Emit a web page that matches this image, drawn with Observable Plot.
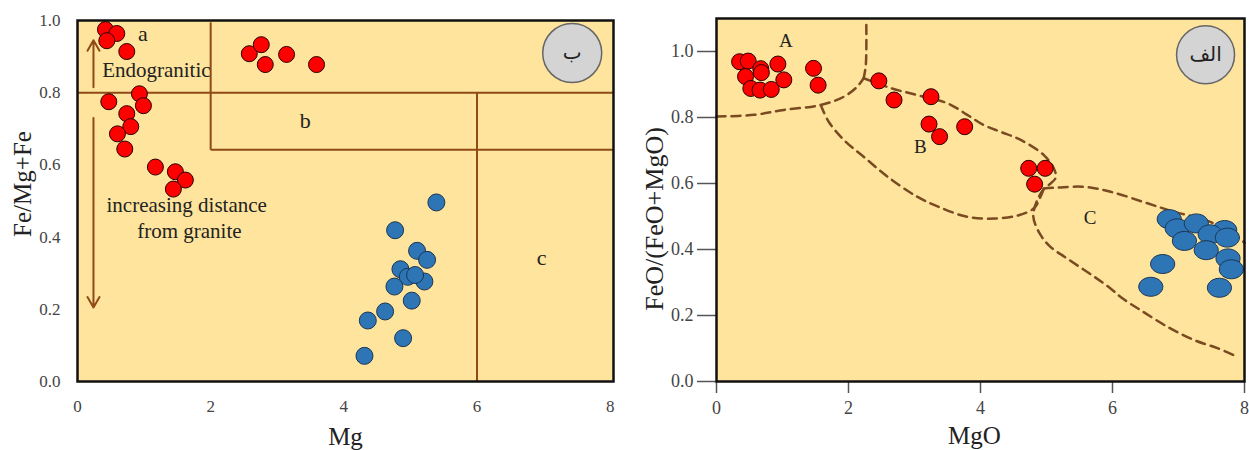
<!DOCTYPE html>
<html><head><meta charset="utf-8">
<script src="https://cdn.jsdelivr.net/npm/d3@7"></script>
<script src="https://cdn.jsdelivr.net/npm/@observablehq/plot@0.6"></script>
<style>
body{margin:0;background:#fff}
#wrap{display:flex;width:1249px;height:450px;background:#fff}
#wrap svg{display:block}
#wrap svg text{font-family:"Liberation Serif","DejaVu Serif",serif}
#wrap svg text.arabic{font-family:"DejaVu Sans",sans-serif}
</style>
</head><body><div id="wrap"></div>
<script>
// ---------- LEFT PANEL (ب): Fe/Mg+Fe vs Mg ----------
const leftXTicks = [0, 2, 4, 6, 8];
const leftYTicks = [0, 0.2, 0.4, 0.6, 0.8, 1.0];
const leftRed = [
  [0.42,0.975],[0.59,0.964],[0.44,0.944],[0.74,0.914],
  [0.47,0.775],[0.93,0.797],[0.99,0.764],[0.74,0.742],[0.80,0.706],[0.60,0.686],[0.71,0.644],
  [1.17,0.594],[1.47,0.581],[1.62,0.558],[1.44,0.533],
  [2.58,0.908],[2.76,0.933],[2.82,0.878],[3.14,0.906],[3.59,0.878]
];
const leftBlue = [
  [5.39,0.496],[4.77,0.419],[5.10,0.362],[5.25,0.337],[4.85,0.311],[4.96,0.290],[5.21,0.277],
  [5.07,0.295],[4.76,0.263],[5.02,0.224],[4.62,0.194],[4.36,0.169],[4.89,0.120],[4.31,0.071]
];
// field boundaries [x1, y1, x2, y2]
const leftBoundaries = [
  [0, 0.8, 8.05, 0.8],
  [2, 0.995, 2, 0.642],
  [2, 0.642, 8.05, 0.642],
  [6, 0.8, 6, 0]
];
const leftArrows = [
  [0.24, 0.815, 0.24, 0.945],
  [0.24, 0.73, 0.24, 0.205]
];
const leftLetters = [
  {x: 0.98, y: 0.962, text: "a"},
  {x: 3.42, y: 0.723, text: "b"},
  {x: 6.97, y: 0.343, text: "c"}
];
const leftNoteStart = [
  {x: 0.37, y: 0.861, text: "Endogranitic"}
];
const leftNoteCentered = [
  {x: 1.64, y: 0.487, text: "increasing distance"},
  {x: 1.68, y: 0.415, text: "from granite"}
];
const leftBadge = {x: 7.43, y: 0.91, text: "ب"};

// ---------- RIGHT PANEL (الف): FeO/(FeO+MgO) vs MgO ----------
const rightXTicks = [0, 2, 4, 6, 8];
const rightYTicks = [0, 0.2, 0.4, 0.6, 0.8, 1.0];
const rightRed = [
  [0.35,0.969],[0.48,0.971],[0.67,0.948],[0.93,0.962],[0.44,0.924],[0.68,0.936],[1.02,0.914],
  [0.52,0.888],[0.66,0.883],[0.83,0.885],[1.47,0.949],[1.54,0.898],
  [2.46,0.911],[2.69,0.853],[3.25,0.863],[3.22,0.780],[3.38,0.742],[3.76,0.772],
  [4.73,0.646],[4.98,0.646],[4.82,0.598]
];
const rightBlue = [
  [6.86,0.492],[6.98,0.464],[7.27,0.479],[7.70,0.459],[7.48,0.446],[7.74,0.436],[7.09,0.426],
  [7.42,0.398],[7.75,0.373],[7.80,0.340],[6.76,0.356],[6.58,0.287],[7.62,0.284]
];
const boundaryALower = [[0,0.803],[0.57,0.808],[1.02,0.823],[1.58,0.838],[1.93,0.863],[2.13,0.893],[2.23,0.919]];
const boundaryABVertical = [[2.27,1.08],[2.27,1.005],[2.26,0.954],[2.23,0.919]];
const boundaryBUpper = [[2.23,0.919],[2.66,0.888],[3.04,0.868],[3.50,0.843],[3.80,0.808],[4.05,0.777],[4.30,0.757],[4.61,0.732],[4.96,0.686],[5.11,0.646],[5.14,0.618],[5.05,0.598],[4.96,0.585]];
const boundaryBLower = [[1.58,0.838],[1.70,0.787],[1.93,0.732],[2.23,0.681],[2.59,0.621],[3.04,0.56],[3.37,0.529],[3.80,0.499],[4.22,0.494],[4.58,0.504],[4.81,0.525],[4.91,0.56],[4.96,0.585]];
const boundaryCUpper = [[4.96,0.585],[5.18,0.588],[5.56,0.590],[5.97,0.575],[6.53,0.540],[6.92,0.515],[7.41,0.489],[7.83,0.448],[8.0,0.42]];
const boundaryCLower = [[4.96,0.585],[4.86,0.55],[4.80,0.50],[4.91,0.444],[5.06,0.408],[5.31,0.373],[5.72,0.318],[5.97,0.282],[6.15,0.252],[6.42,0.217],[6.83,0.166],[7.23,0.126],[7.59,0.101],[7.89,0.075]];
const rightLabels = [
  {x: 1.05, y: 1.033, text: "A"},
  {x: 3.09, y: 0.711, text: "B"},
  {x: 5.66, y: 0.495, text: "C"}
];
const rightBadge = {x: 7.41, y: 0.99, text: "الف"};

// ---------- styles ----------
const bg = "#fee49c";
const brown = "#8f4a17";
const dashBrown = "#7a4a22";
const red = "#ff0000";
const blue = "#2e75b6";
const serif = "Liberation Serif, 'DejaVu Serif', serif";
const tickColor = "#444";

const rightBoundaries = [
  ...boundaryALower.map(p => ({id: "AL", x: p[0], y: p[1]})),
  ...boundaryABVertical.map(p => ({id: "AV", x: p[0], y: p[1]})),
  ...boundaryBUpper.map(p => ({id: "BU", x: p[0], y: p[1]})),
  ...boundaryBLower.map(p => ({id: "BL", x: p[0], y: p[1]})),
  ...boundaryCUpper.map(p => ({id: "CU", x: p[0], y: p[1]})),
  ...boundaryCLower.map(p => ({id: "CL", x: p[0], y: p[1]}))
];

const ellipseSymbol = {
  draw(context, size) {
    const r = Math.sqrt(size / Math.PI);
    const rx = r * 1.27, ry = r, k = 0.5523;
    context.moveTo(rx, 0);
    context.bezierCurveTo(rx, k * ry, k * rx, ry, 0, ry);
    context.bezierCurveTo(-k * rx, ry, -rx, k * ry, -rx, 0);
    context.bezierCurveTo(-rx, -k * ry, -k * rx, -ry, 0, -ry);
    context.bezierCurveTo(k * rx, -ry, rx, -k * ry, rx, 0);
    context.closePath();
  }
};

const fmt = d3.format(".1f");

const left = Plot.plot({
  width: 625, height: 450,
  marginLeft: 77, marginRight: 12, marginTop: 20, marginBottom: 69,
  x: {domain: [0, 8.05]},
  y: {domain: [0, 1]},
  style: {fontFamily: serif, fontSize: "17px", color: tickColor, background: "white", overflow: "visible"},
  marks: [
    Plot.frame({fill: bg, stroke: null}),
    Plot.axisX({ticks: leftXTicks, tickSize: 0, tickPadding: 18, label: null, fontSize: 17, fill: tickColor}),
    Plot.axisY({ticks: leftYTicks, tickSize: 0, tickPadding: 17, label: null, fontSize: 17, fill: tickColor, tickFormat: fmt}),
    Plot.link(leftBoundaries, {x1: d => d[0], y1: d => d[1], x2: d => d[2], y2: d => d[3], stroke: brown, strokeWidth: 2}),
    Plot.arrow(leftArrows, {x1: d => d[0], y1: d => d[1], x2: d => d[2], y2: d => d[3], stroke: brown, strokeWidth: 2, headLength: 9, insetStart: 0, insetEnd: 0}),
    Plot.dot(leftRed, {x: d => d[0], y: d => d[1], r: 8, fill: red, stroke: "#2a0000", strokeWidth: 1}),
    Plot.dot(leftBlue, {x: d => d[0], y: d => d[1], r: 8.5, fill: blue, stroke: "#1b3553", strokeWidth: 1}),
    Plot.text(leftLetters, {x: "x", y: "y", text: "text", textAnchor: "middle", fontSize: 22, fill: "#222"}),
    Plot.text(leftNoteStart, {x: "x", y: "y", text: "text", textAnchor: "start", fontSize: 21, fill: "#222"}),
    Plot.text(leftNoteCentered, {x: "x", y: "y", text: "text", textAnchor: "middle", fontSize: 21, fill: "#222"}),
    Plot.dot([leftBadge], {x: "x", y: "y", r: 29.5, fill: "#d4d4d4", stroke: "#666", strokeWidth: 1.5}),
    Plot.text([leftBadge], {x: "x", y: "y", text: "text", fontSize: 20, fill: "#222", className: "arabic"}),
    Plot.text(["Mg"], {frameAnchor: "bottom", text: d => d, textAnchor: "middle", lineAnchor: "middle", dy: 55, fontSize: 25, fill: "#222"}),
    Plot.text(["Fe/Mg+Fe"], {frameAnchor: "left", text: d => d, textAnchor: "middle", lineAnchor: "middle", rotate: -90, dx: -55, dy: -17, fontSize: 25, fill: "#222"}),
    Plot.frame({stroke: "#111", strokeWidth: 2.5})
  ]
});

const right = Plot.plot({
  width: 624, height: 450,
  marginLeft: 91, marginRight: 5, marginTop: 18, marginBottom: 69,
  x: {domain: [0, 8]},
  y: {domain: [0, 1.1]},
  style: {fontFamily: serif, fontSize: "18px", color: "#555", background: "white", overflow: "visible"},
  marks: [
    Plot.frame({fill: bg, stroke: null}),
    Plot.axisX({ticks: rightXTicks, tickSize: 12, tickPadding: 8, label: null, fontSize: 18, fill: tickColor, strokeWidth: 1.5}),
    Plot.axisY({ticks: rightYTicks, tickSize: 19, tickPadding: 4, label: null, fontSize: 18, fill: tickColor, tickFormat: fmt, strokeWidth: 1.5}),
    Plot.line(rightBoundaries, {x: "x", y: "y", z: "id", curve: "catmull-rom", stroke: dashBrown, strokeWidth: 2.5, strokeDasharray: "9,6"}),
    Plot.dot(rightRed, {x: d => d[0], y: d => d[1], r: 8, fill: red, stroke: "#2a0000", strokeWidth: 1}),
    Plot.dot(rightBlue, {x: d => d[0], y: d => d[1], r: 9.5, symbol: ellipseSymbol, fill: blue, stroke: "#1b3553", strokeWidth: 1}),
    Plot.text(rightLabels, {x: "x", y: "y", text: "text", fontSize: 19, fill: "#222"}),
    Plot.dot([rightBadge], {x: "x", y: "y", r: 29, fill: "#d4d4d4", stroke: "#666", strokeWidth: 1.5}),
    Plot.text([rightBadge], {x: "x", y: "y", text: "text", fontSize: 20, fill: "#222", className: "arabic"}),
    Plot.text(["MgO"], {frameAnchor: "bottom", text: d => d, textAnchor: "middle", lineAnchor: "middle", dx: -6, dy: 54, fontSize: 25, fill: "#222"}),
    Plot.text(["FeO/(FeO+MgO)"], {frameAnchor: "left", text: d => d, textAnchor: "middle", lineAnchor: "middle", rotate: -90, dx: -62, dy: 19, fontSize: 26, fill: "#222"}),
    Plot.frame({stroke: "#111", strokeWidth: 2.5})
  ]
});

document.getElementById("wrap").append(left, right);
// Arabic badge glyphs need a font with Arabic coverage
d3.selectAll("#wrap svg g.arabic text, #wrap svg .arabic").classed("arabic", true)
  .style("font-family", "'DejaVu Sans', sans-serif");
</script>
</body></html>
